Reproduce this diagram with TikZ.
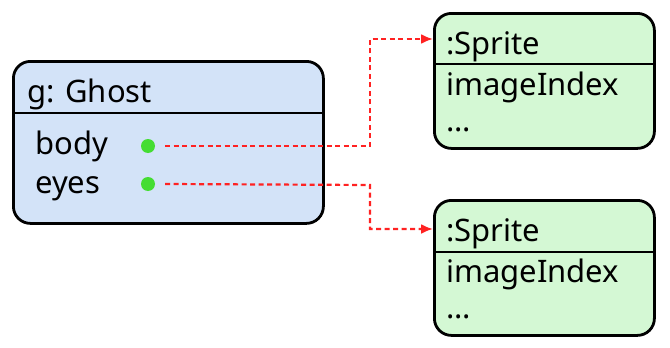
\documentclass[tikz,border=0pt]{standalone}
\usepackage{fontspec}
\setmainfont{Noto Sans}
\usetikzlibrary{arrows.meta}
\definecolor{ghostfill}{HTML}{D3E3F8}
\definecolor{spritefill}{HTML}{D4F8D4}
\definecolor{dotgreen}{HTML}{44DD33}
\definecolor{linkred}{HTML}{FF2222}
\begin{document}
\begin{tikzpicture}[x=1pt,y=-1pt,
  objbox/.style={draw=black,line width=2.8pt,rounded corners=17pt,inner sep=0pt,anchor=north west},
  divider/.style={draw=black,line width=2.2pt},
  lbl/.style={anchor=base west,inner sep=0pt,font=\fontsize{31}{35}\selectfont},
  slot/.style={circle,fill=dotgreen,inner sep=0pt,minimum size=14pt},
  link/.style={draw=linkred,line width=2.2pt,dash pattern=on 5pt off 3.5pt,-{Latex[length=12pt,width=10pt]}}]
\useasboundingbox (0,0) rectangle (670,348);
% Ghost
\node[objbox,fill=ghostfill,minimum width=310pt,minimum height=162pt] (ghost) at (12,60) {};
\draw[divider] (12,113) -- (322,113);
\node[lbl] (gname) at (27,102) {g: Ghost};
\node[lbl] (body) at (35,154) {body};
\node[lbl] (eyes) at (35,193) {eyes};
\node[slot] (bdot) at (148,146) {};
\node[slot] (edot) at (148,184) {};
% Sprite 1
\node[objbox,fill=spritefill,minimum width=220pt,minimum height=135pt] (s1) at (433,12) {};
\draw[divider] (433,64) -- (653,64);
\node[lbl] (s1name) at (446,54) {:Sprite};
\node[lbl] (s1a) at (446,95) {imageIndex};
\node[lbl] (s1b) at (446,131) {...};
% Sprite 2
\node[objbox,fill=spritefill,minimum width=220pt,minimum height=135pt] (s2) at (433,199) {};
\draw[divider] (433,252) -- (653,252);
\node[lbl] (s2name) at (446,241) {:Sprite};
\node[lbl] (s2a) at (446,282) {imageIndex};
\node[lbl] (s2b) at (446,318) {...};
% links
\coordinate (t1) at (433,39);
\coordinate (t2) at (433,229);
\draw[link] ([xshift=10pt]bdot.east) -- (370,146) -- (370,39) -- (t1);
\draw[link] ([xshift=10pt]edot.east) -- (370,185) -- (370,229) -- (t2);
\end{tikzpicture}
\end{document}
